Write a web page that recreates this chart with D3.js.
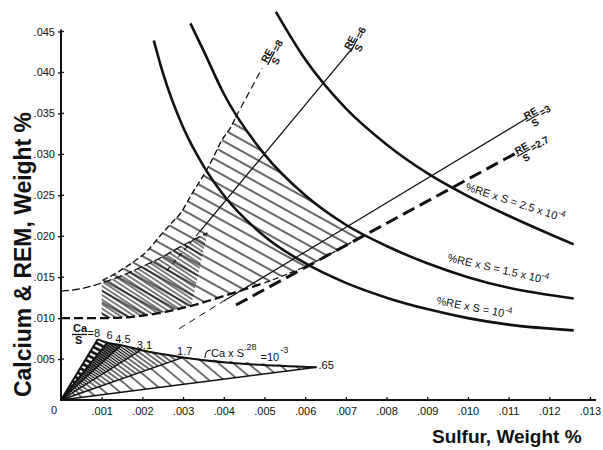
<!DOCTYPE html>
<html>
<head>
<meta charset="utf-8">
<script src="https://cdn.jsdelivr.net/npm/d3@7/dist/d3.min.js"></script>
<style>
body { margin: 0; background: #fff; }
text { font-family: "Liberation Sans", Arial, sans-serif; fill: #111; }
</style>
</head>
<body>
<script>
// Axis ticks
var xTickValues = [0.001, 0.002, 0.003, 0.004, 0.005, 0.006, 0.007, 0.008, 0.009, 0.010, 0.011, 0.012, 0.013];
var xTickLabels = [".001", ".002", ".003", ".004", ".005", ".006", ".007", ".008", ".009", ".010", ".011", ".012", ".013"];
var yTickValues = [0.005, 0.010, 0.015, 0.020, 0.025, 0.030, 0.035, 0.040, 0.045];
var yTickLabels = [".005", ".010", ".015", ".020", ".025", ".030", ".035", ".040", ".045"];

// %RE x S = const curves (sulfur, RE)
var re1S = [0.00228, 0.0025, 0.003, 0.0035, 0.004, 0.005, 0.006, 0.007, 0.008, 0.009, 0.010, 0.011, 0.0126];
var re1C = [0.0439, 0.0400, 0.0333, 0.0286, 0.0250, 0.0200, 0.0167, 0.0143, 0.0125, 0.0111, 0.0100, 0.0092, 0.0085];
var re15S = [0.00318, 0.0035, 0.004, 0.005, 0.006, 0.007, 0.008, 0.009, 0.010, 0.011, 0.0126];
var re15C = [0.0460, 0.0427, 0.0374, 0.0300, 0.0250, 0.0214, 0.0188, 0.0167, 0.0150, 0.0137, 0.0124];
var re25S = [0.00528, 0.006, 0.007, 0.008, 0.009, 0.010, 0.011, 0.0126];
var re25C = [0.0474, 0.0416, 0.0356, 0.0312, 0.0277, 0.0249, 0.0225, 0.0190];

// RE/S ratio lines
var ratio8S = [0.00429, 0.00494], ratio8C = [0.0345, 0.0405];
var ratio6S = [0.0034, 0.00715], ratio6C = [0.0205, 0.0429];
var ratio6DashS = [0.0026, 0.0034], ratio6DashC = [0.0158, 0.0205];
var ratio3S = [0.0040, 0.01145], ratio3C = [0.0121, 0.0344];
var ratio3DashS = [0.0029, 0.0040], ratio3DashC = [0.0087, 0.0121];
var ratio27S = [0.0043, 0.0112], ratio27C = [0.0116, 0.0302];

// Boundaries of the shaded RE field
var upperS = [0.00102, 0.00139, 0.00173, 0.0021, 0.00241, 0.00266, 0.00295, 0.00322, 0.00346, 0.00371, 0.00395, 0.00417, 0.00429];
var upperC = [0.0146, 0.0156, 0.0167, 0.0181, 0.0199, 0.0213, 0.0229, 0.0252, 0.0271, 0.0293, 0.0317, 0.0333, 0.0345];
var innerS = [0, 0.0005, 0.0010, 0.0015, 0.0020, 0.0025, 0.0030, 0.0036];
var innerC = [0.0133, 0.0136, 0.0143, 0.0152, 0.0163, 0.0175, 0.0189, 0.0204];
var lowerS = [0, 0.0010, 0.0016, 0.0024, 0.0032, 0.0040, 0.0050, 0.0060, 0.0074];
var lowerC = [0.0100, 0.0100, 0.0101, 0.0106, 0.0115, 0.0127, 0.0143, 0.0163, 0.0200];
var capS = [0.0043, 0.0050, 0.0060, 0.0070, 0.0074];
var capC = [0.0349, 0.0300, 0.0250, 0.0214, 0.0202];

// Ca/S fan, apexes on Ca x S^.28 = 10^-3
var caRatioLabels = ["=8", "6", "4.5", "3.1", "1.7", ".65"];
var caApexS = [0.00090, 0.00114, 0.00148, 0.00196, 0.00300, 0.00628];
var caApexC = [0.0074, 0.0070, 0.0067, 0.0061, 0.0052, 0.0040];

var width = 603, height = 450;
var ink = "#111";

var svg = d3.select("body").append("svg")
    .attr("width", width)
    .attr("height", height);
var defs = svg.append("defs");

var x = d3.scaleLinear().domain([0, 0.013]).range([61, 590]);
var y = d3.scaleLinear().domain([0, 0.045]).range([400, 31.5]);

function pts(sArr, cArr) {
    return sArr.map(function(s, i) { return [x(s), y(cArr[i])]; });
}
var smooth = d3.line().curve(d3.curveMonotoneX);
var straight = d3.line();

// Hatch patterns
function hatch(id, spacing, lw, angle) {
    var p = defs.append("pattern")
        .attr("id", id)
        .attr("patternUnits", "userSpaceOnUse")
        .attr("width", spacing).attr("height", spacing)
        .attr("patternTransform", "rotate(" + angle + ")");
    p.append("line")
        .attr("x1", -1).attr("x2", spacing + 1)
        .attr("y1", spacing / 2).attr("y2", spacing / 2)
        .attr("stroke", "#000").attr("stroke-width", lw);
}
hatch("hatchB", 10, 1.2, 29);
hatch("hatchA", 3.8, 1.0, 33);
hatch("fan0", 5, 2.6, 28);
hatch("fan1", 2.2, 1.7, 35);
hatch("fan2", 2.4, 1.2, 35);
hatch("fan3", 3.8, 1.1, 36);
hatch("fan4", 9.5, 1.1, 40);

//
// Shaded RE field
//
var zoneB = pts(upperS, upperC)
    .concat(pts(capS, capC))
    .concat(pts(lowerS, lowerC).filter(function(p, i) {
        return lowerS[i] >= 0.001 && lowerS[i] <= 0.0074;
    }).reverse());
svg.append("path")
    .attr("d", straight(zoneB) + "Z")
    .attr("fill", "url(#hatchB)");

var zoneA = pts(innerS, innerC).filter(function(p, i) { return innerS[i] >= 0.001; })
    .concat(pts(lowerS, lowerC).filter(function(p, i) {
        return lowerS[i] >= 0.001 && lowerS[i] <= 0.0032;
    }).reverse());
svg.append("path")
    .attr("d", straight(zoneA) + "Z")
    .attr("fill", "url(#hatchA)");

// field boundaries
svg.append("path").attr("d", smooth(pts(upperS, upperC)))
    .attr("fill", "none").attr("stroke", ink).attr("stroke-width", 1.4)
    .attr("stroke-dasharray", "6,3");
svg.append("path").attr("d", smooth(pts(innerS, innerC)))
    .attr("fill", "none").attr("stroke", ink).attr("stroke-width", 1.3)
    .attr("stroke-dasharray", "8,3");
var lowerPts = pts(lowerS, lowerC);
svg.append("path").attr("d", smooth(lowerPts.filter(function(p, i) { return lowerS[i] <= 0.005; })))
    .attr("fill", "none").attr("stroke", ink).attr("stroke-width", 2.3)
    .attr("stroke-dasharray", "9,4");
svg.append("path").attr("d", smooth(lowerPts.filter(function(p, i) { return lowerS[i] >= 0.005; })))
    .attr("fill", "none").attr("stroke", ink).attr("stroke-width", 1.3)
    .attr("stroke-dasharray", "6,3");

//
// Ratio lines RE/S
//
function ratioLine(sArr, cArr, lw, dash) {
    var p = svg.append("path").attr("d", straight(pts(sArr, cArr)))
        .attr("fill", "none").attr("stroke", ink).attr("stroke-width", lw);
    if (dash) p.attr("stroke-dasharray", dash);
}
ratioLine(ratio8S, ratio8C, 1.2, "7,4");
ratioLine(ratio6S, ratio6C, 1.3, null);
ratioLine(ratio6DashS, ratio6DashC, 1.1, "5,4");
ratioLine(ratio3S, ratio3C, 1.2, null);
ratioLine(ratio3DashS, ratio3DashC, 1.0, "7,5");
ratioLine(ratio27S, ratio27C, 3, "13,6");

//
// %RE x S hyperbolas
//
[[re1S, re1C], [re15S, re15C], [re25S, re25C]].forEach(function(c) {
    svg.append("path")
        .attr("d", smooth(pts(c[0], c[1])))
        .attr("fill", "none").attr("stroke", ink).attr("stroke-width", 2.6);
});

function curveLabel(px, py, angle, main, sup) {
    var t = svg.append("text")
        .attr("transform", "translate(" + px + "," + py + ") rotate(" + angle + ")")
        .style("font-size", "11px");
    t.append("tspan").text(main);
    t.append("tspan").attr("dy", -5).style("font-size", "8.5px").text(sup);
}
curveLabel(465, 190, 18, "%RE x S = 2.5 x 10", "-4");
curveLabel(447, 261, 13, "%RE x S = 1.5 x 10", "-4");
curveLabel(436, 304, 11, "%RE x S = 10", "-4");

// RE/S fraction labels
function fracLabel(px, py, angle, num, den, rhs) {
    var g = svg.append("g")
        .attr("transform", "translate(" + px + "," + py + ") rotate(" + angle + ")")
        .style("font-size", "10px").style("font-weight", "bold");
    g.append("text").attr("x", 0).attr("y", -1.5).text(num);
    g.append("line").attr("x1", -1).attr("x2", 14).attr("y1", 0).attr("y2", 0)
        .attr("stroke", ink).attr("stroke-width", 1.2);
    g.append("text").attr("x", 3).attr("y", 9).text(den);
    g.append("text").attr("x", 15).attr("y", 3.5).text(rhs);
}
fracLabel(268, 64, -62, "RE", "S", "=8");
fracLabel(351, 51, -62, "RE", "S", "=6");
fracLabel(527, 121, -30, "RE", "S", "=3");
fracLabel(518, 156, -30, "RE", "S", "=2.7");

//
// Ca/S fan
//
var fanFills = ["url(#fan0)", "url(#fan1)", "url(#fan2)", "url(#fan3)", "url(#fan4)"];
var apex = pts(caApexS, caApexC);
var origin = [x(0), y(0)];
fanFills.forEach(function(f, i) {
    svg.append("path")
        .attr("d", straight([origin, apex[i], apex[i + 1]]) + "Z")
        .attr("fill", f);
});
apex.forEach(function(p, i) {
    svg.append("line")
        .attr("x1", origin[0]).attr("y1", origin[1])
        .attr("x2", p[0]).attr("y2", p[1])
        .attr("stroke", ink).attr("stroke-width", i < 2 ? 2 : 1.4);
});
svg.append("path").attr("d", smooth(apex))
    .attr("fill", "none").attr("stroke", ink).attr("stroke-width", 2);

var labelDx = [-10, -1, -6, -4, -6, 2], labelDy = [-2, -4, -2, -1, -2, 2];
svg.selectAll("text.caRatio")
    .data(caRatioLabels)
    .enter().append("text")
    .attr("class", "caRatio")
    .attr("x", function(d, i) { return apex[i][0] + labelDx[i]; })
    .attr("y", function(d, i) { return apex[i][1] + labelDy[i]; })
    .style("font-size", "11px")
    .text(function(d) { return d; });

// Ca/S fraction
svg.append("text").attr("x", 73).attr("y", 332).style("font-size", "11px").style("font-weight", "bold").text("Ca");
svg.append("line").attr("x1", 72).attr("x2", 87).attr("y1", 334.5).attr("y2", 334.5)
    .attr("stroke", ink).attr("stroke-width", 1.3);
svg.append("text").attr("x", 75).attr("y", 344).style("font-size", "11px").style("font-weight", "bold").text("S");

// Ca x S^.28 = 10^-3 label
var caT = svg.append("text").attr("x", 211).attr("y", 357).style("font-size", "11px");
caT.append("tspan").text("Ca x S");
caT.append("tspan").attr("dy", -7).style("font-size", "9px").text(".28");
caT.append("tspan").attr("dx", 4).attr("dy", 11).text("=10");
caT.append("tspan").attr("dx", 1).attr("dy", -8).style("font-size", "9px").text("-3");
svg.append("path").attr("d", "M211,350 Q205,350 205,358")
    .attr("fill", "none").attr("stroke", ink).attr("stroke-width", 1.2);

//
// Axes
//
var yAxis = d3.axisLeft(y)
    .tickValues(yTickValues)
    .tickFormat(function(d, i) { return yTickLabels[i]; })
    .tickSize(3).tickPadding(3);
var gy = svg.append("g").attr("transform", "translate(" + x(0) + ",0)").call(yAxis);
var xAxis = d3.axisBottom(x)
    .tickValues(xTickValues)
    .tickFormat(function(d, i) { return xTickLabels[i]; })
    .tickSizeInner(-3).tickSizeOuter(0).tickPadding(7);
var gx = svg.append("g").attr("transform", "translate(0," + y(0) + ")").call(xAxis);
[gx, gy].forEach(function(g) {
    g.select(".domain").remove();
    g.selectAll("line").attr("stroke", ink).attr("stroke-width", 1.3);
    g.selectAll("text")
        .style("font-family", "'Liberation Sans', Arial, sans-serif")
        .style("font-size", "11px")
        .attr("fill", ink);
});
// right-hand half of y ticks
svg.selectAll("line.yTick2")
    .data(yTickValues)
    .enter().append("line")
    .attr("class", "yTick2")
    .attr("x1", x(0)).attr("x2", x(0) + 3)
    .attr("y1", function(d) { return y(d); })
    .attr("y2", function(d) { return y(d); })
    .attr("stroke", ink).attr("stroke-width", 1.3);
svg.append("line")
    .attr("x1", x(0)).attr("x2", x(0))
    .attr("y1", y(0) + 1).attr("y2", y(0.045) - 2)
    .attr("stroke", ink).attr("stroke-width", 2);
svg.append("line")
    .attr("x1", x(0) - 1).attr("x2", x(0.0131) + 2)
    .attr("y1", y(0)).attr("y2", y(0))
    .attr("stroke", ink).attr("stroke-width", 2);
svg.append("text").attr("x", 51).attr("y", 414).style("font-size", "11px").text("0");

// Axis titles
svg.append("text")
    .attr("transform", "translate(31,397) rotate(-90)")
    .attr("textLength", 285).attr("lengthAdjust", "spacingAndGlyphs")
    .style("font-size", "24px").style("font-weight", "bold")
    .text("Calcium & REM, Weight %");
svg.append("text")
    .attr("x", 432).attr("y", 443)
    .style("font-size", "19px").style("font-weight", "bold")
    .text("Sulfur, Weight %");
</script>
</body>
</html>
